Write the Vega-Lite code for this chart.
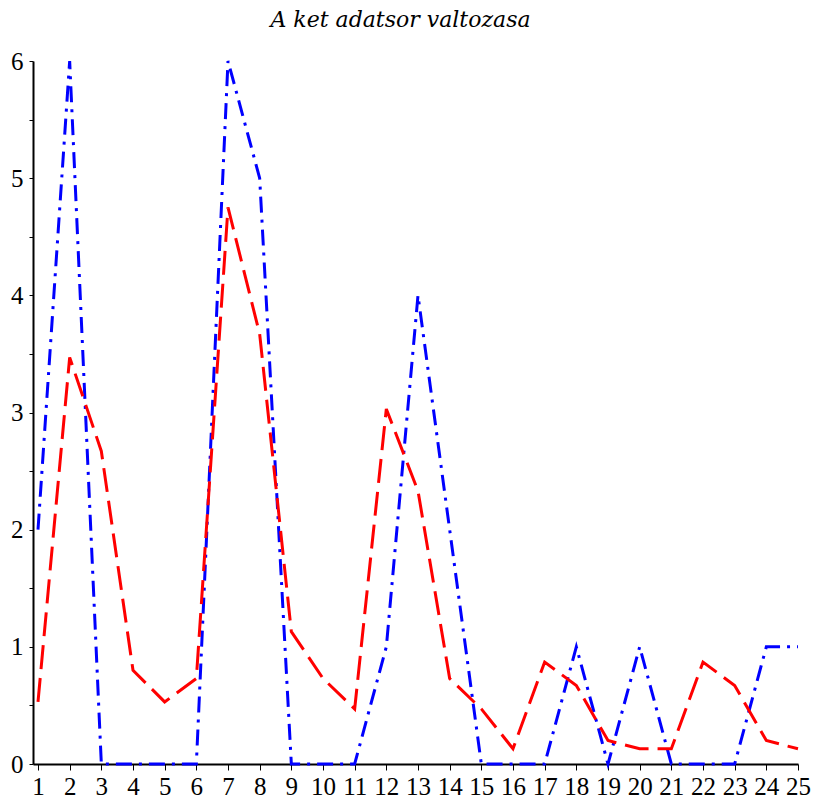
{
  "$schema": "https://vega.github.io/schema/vega-lite/v6.json",
  "width": 765,
  "height": 703,
  "autosize": {"type": "none"},
  "padding": {"left": 33, "top": 61, "right": 16, "bottom": 41},
  "background": "white",
  "config": {"view": {"stroke": null}, "font": "Liberation Serif"},
  "title": {"text": "A ket adatsor valtozasa", "font": "DejaVu Serif", "fontStyle": "italic", "fontWeight": "normal", "fontSize": 22, "color": "black", "offset": 17, "dx": -15, "anchor": "middle"},
  "data": {"values": [
    {"x": 1, "s": "blue", "y": 2}, {"x": 2, "s": "blue", "y": 6}, {"x": 3, "s": "blue", "y": 0}, {"x": 4, "s": "blue", "y": 0}, {"x": 5, "s": "blue", "y": 0},
    {"x": 6, "s": "blue", "y": 0}, {"x": 7, "s": "blue", "y": 6}, {"x": 8, "s": "blue", "y": 5}, {"x": 9, "s": "blue", "y": 0}, {"x": 10, "s": "blue", "y": 0},
    {"x": 11, "s": "blue", "y": 0}, {"x": 12, "s": "blue", "y": 1}, {"x": 13, "s": "blue", "y": 4}, {"x": 14, "s": "blue", "y": 2}, {"x": 15, "s": "blue", "y": 0},
    {"x": 16, "s": "blue", "y": 0}, {"x": 17, "s": "blue", "y": 0}, {"x": 18, "s": "blue", "y": 1}, {"x": 19, "s": "blue", "y": 0}, {"x": 20, "s": "blue", "y": 1},
    {"x": 21, "s": "blue", "y": 0}, {"x": 22, "s": "blue", "y": 0}, {"x": 23, "s": "blue", "y": 0}, {"x": 24, "s": "blue", "y": 1}, {"x": 25, "s": "blue", "y": 1},
    {"x": 1, "s": "red", "y": 0.53}, {"x": 2, "s": "red", "y": 3.47}, {"x": 3, "s": "red", "y": 2.67}, {"x": 4, "s": "red", "y": 0.8}, {"x": 5, "s": "red", "y": 0.53},
    {"x": 6, "s": "red", "y": 0.73}, {"x": 7, "s": "red", "y": 4.75}, {"x": 8, "s": "red", "y": 3.67}, {"x": 9, "s": "red", "y": 1.13}, {"x": 10, "s": "red", "y": 0.73},
    {"x": 11, "s": "red", "y": 0.47}, {"x": 12, "s": "red", "y": 3.03}, {"x": 13, "s": "red", "y": 2.33}, {"x": 14, "s": "red", "y": 0.73}, {"x": 15, "s": "red", "y": 0.47},
    {"x": 16, "s": "red", "y": 0.13}, {"x": 17, "s": "red", "y": 0.87}, {"x": 18, "s": "red", "y": 0.67}, {"x": 19, "s": "red", "y": 0.2}, {"x": 20, "s": "red", "y": 0.13},
    {"x": 21, "s": "red", "y": 0.13}, {"x": 22, "s": "red", "y": 0.87}, {"x": 23, "s": "red", "y": 0.67}, {"x": 24, "s": "red", "y": 0.2}, {"x": 25, "s": "red", "y": 0.13}
  ]},
  "mark": {"type": "line", "strokeWidth": 3, "clip": false},
  "encoding": {
    "x": {"field": "x", "type": "quantitative", "scale": {"domain": [0.842, 25], "nice": false, "zero": false},
      "axis": {"values": [1,2,3,4,5,6,7,8,9,10,11,12,13,14,15,16,17,18,19,20,21,22,23,24,25], "format": "d", "title": null, "grid": false,
        "domainColor": "black", "domainWidth": 2, "tickColor": "black", "tickSize": 6, "tickWidth": 1,
        "labelFont": "Liberation Serif", "labelFontSize": 25, "labelColor": "black", "labelPadding": 4, "labelFlush": false, "labelOverlap": false}},
    "y": {"field": "y", "type": "quantitative", "scale": {"domain": [0, 6], "nice": false},
      "axis": {"values": [0,0.5,1,1.5,2,2.5,3,3.5,4,4.5,5,5.5,6], "labelExpr": "datum.value % 1 == 0 ? format(datum.value, 'd') : ''", "title": null, "grid": false,
        "domainColor": "black", "domainWidth": 2, "tickColor": "black", "tickSize": 4, "tickWidth": 1,
        "labelFont": "Liberation Serif", "labelFontSize": 25, "labelColor": "black", "labelPadding": 6, "labelFlush": false, "labelOverlap": false}},
    "color": {"field": "s", "type": "nominal", "scale": {"domain": ["blue", "red"], "range": ["#0000ff", "#ff0000"]}, "legend": null},
    "strokeDash": {"field": "s", "type": "nominal", "scale": {"domain": ["blue", "red"], "range": [[16, 7, 3, 7], [24, 9]]}, "legend": null}
  }
}
